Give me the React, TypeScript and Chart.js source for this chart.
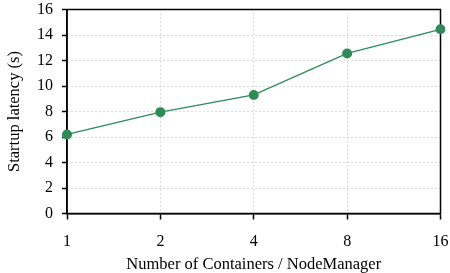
import React, { useEffect, useRef } from "react";
import { Chart, registerables } from "chart.js";

Chart.register(...registerables);

const categories = ["1", "2", "4", "8", "16"];
const latency = [6.2, 7.95, 9.3, 12.55, 14.45];
const yMin = 0;
const yMax = 16;
const yStep = 2;
const xTitle = "Number of Containers / NodeManager";
const yTitle = "Startup latency (s)";

const FONT = "'Liberation Serif', 'Times New Roman', serif";
const GREEN = "#2e8b57";

const framePlugin = {
  id: "frame",
  beforeDatasetsDraw(chart: any) {
    const { ctx, chartArea } = chart;
    ctx.save();
    ctx.strokeStyle = "#000";
    ctx.lineWidth = 1.5;
    ctx.strokeRect(chartArea.left, chartArea.top, chartArea.right - chartArea.left, chartArea.bottom - chartArea.top);
    ctx.restore();
  },
};

export default function App() {
  const ref = useRef<HTMLCanvasElement>(null);
  useEffect(() => {
    const chart = new Chart(ref.current!, {
      type: "line",
      data: {
        labels: categories,
        datasets: [
          {
            data: latency,
            borderColor: GREEN,
            backgroundColor: GREEN,
            borderWidth: 1.3,
            pointRadius: 5,
            pointHoverRadius: 5,
            pointBackgroundColor: GREEN,
            pointBorderWidth: 0,
            tension: 0,
          },
        ],
      },
      options: {
        animation: false,
        responsive: false,
        maintainAspectRatio: false,
        layout: { padding: 0 },
        plugins: { legend: { display: false }, tooltip: { enabled: false } },
        scales: {
          x: {
            offset: false,
            afterFit(scale: any) {
              scale.height = 59.5;
              scale.paddingLeft = 0;
              scale.paddingRight = 9.5;
              scale.paddingTop = 0;
              scale.paddingBottom = 0;
            },
            grid: {
              color: "#b8b8b8",
              lineWidth: 1,
              tickLength: 6,
              tickColor: "#000",
              tickWidth: 1.5,
              tickBorderDash: [],
              drawOnChartArea: true,
            },
            border: { display: true, color: "#000", width: 1.5, dash: [1, 3] },
            ticks: {
              color: "#000",
              font: { family: FONT, size: 16 },
              padding: 13,
              maxRotation: 0,
              autoSkip: false,
            },
            title: {
              display: true,
              text: xTitle,
              color: "#000",
              font: { family: FONT, size: 16.5, lineHeight: 1.0 },
              padding: { top: 0, bottom: 0 },
            },
          },
          y: {
            min: yMin,
            max: yMax,
            afterFit(scale: any) {
              scale.width = 67;
              scale.paddingTop = 9.5;
              scale.paddingBottom = 0;
              scale.paddingLeft = 0;
              scale.paddingRight = 0;
            },
            grid: {
              color: "#b8b8b8",
              lineWidth: 1,
              tickLength: 5,
              tickColor: "#000",
              tickWidth: 1.5,
              tickBorderDash: [],
            },
            border: { display: true, color: "#000", width: 1.5, dash: [1, 3] },
            ticks: {
              stepSize: yStep,
              color: "#000",
              font: { family: FONT, size: 16 },
              padding: 9,
            },
            title: {
              display: true,
              text: yTitle,
              color: "#000",
              font: { family: FONT, size: 16.5 },
              padding: { top: 5, bottom: 0 },
            },
          },
        },
      },
      plugins: [framePlugin],
    });
    return () => chart.destroy();
  }, []);
  return (
    <div style={{ position: "fixed", left: 0, top: 0, width: 450, height: 273 }}>
      <canvas ref={ref} width={450} height={273} style={{ width: 450, height: 273 }} />
    </div>
  );
}
